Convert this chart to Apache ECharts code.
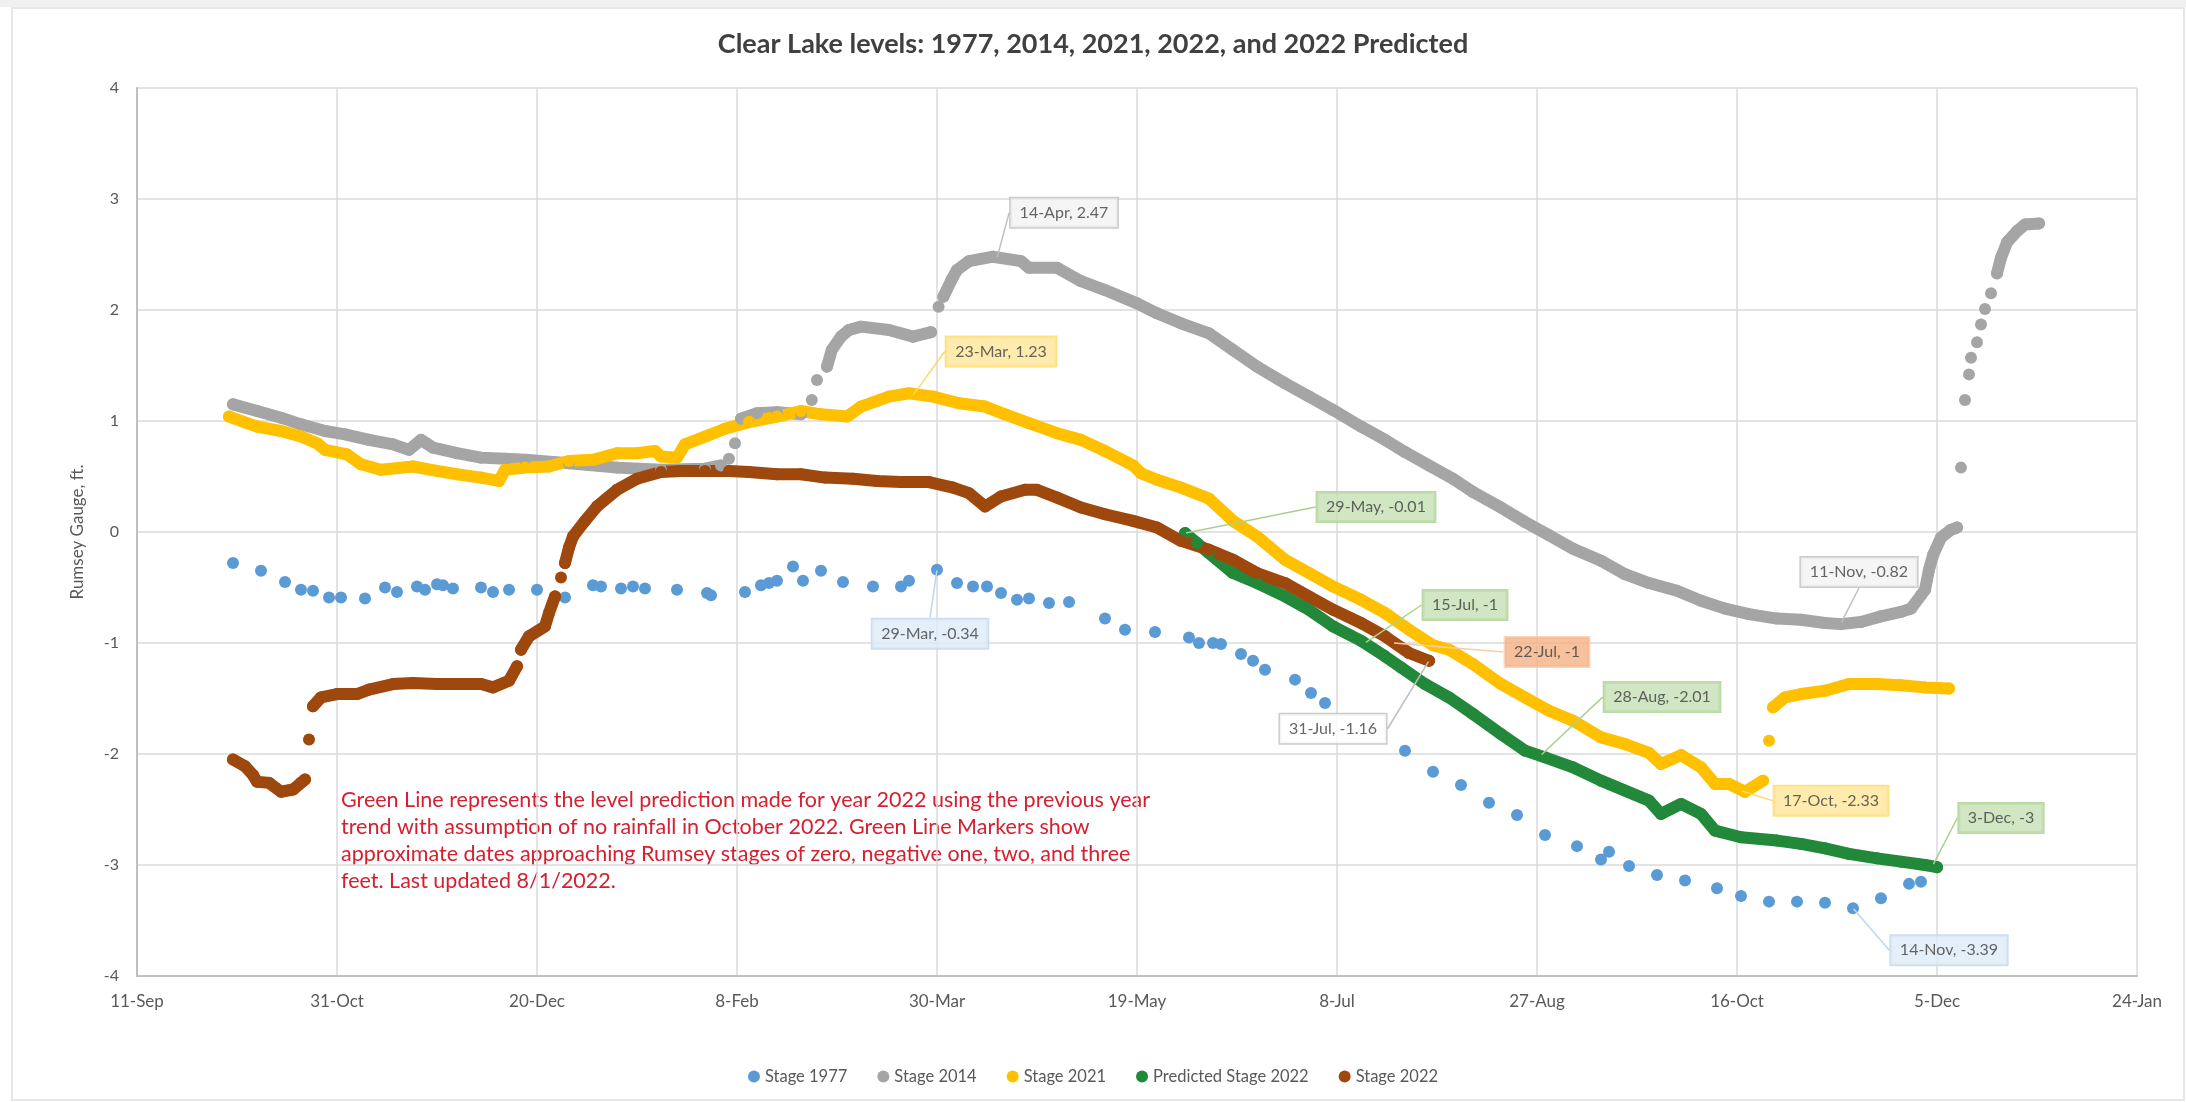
<!DOCTYPE html>
<html>
<head>
<meta charset="utf-8">
<title>Clear Lake levels</title>
<script src="https://cdn.jsdelivr.net/npm/echarts@6/dist/echarts.min.js"></script>
<style>
  html, body { margin: 0; padding: 0; background: #fff; }
  #chart { width: 2186px; height: 1102px; }
</style>
</head>
<body>
<div id="chart"></div>
<script>
// x = days counted from 11-Sep (left end of the axis), 50 days per tick
var tickLabels = ['11-Sep', '31-Oct', '20-Dec', '8-Feb', '30-Mar', '19-May', '8-Jul', '27-Aug', '16-Oct', '5-Dec', '24-Jan'];

var seriesNames = ['Stage 1977', 'Stage 2014', 'Stage 2021', 'Predicted Stage 2022', 'Stage 2022'];

var days1977 = [24, 31, 37, 41, 44, 48, 51, 57, 62, 65, 70, 72, 75, 76.5, 79, 86, 89, 93, 100, 107, 114, 116, 121, 124, 127, 135, 142.5, 143.5,
    152, 156, 158, 160, 164, 166.5, 171, 176.5, 184, 191, 193, 200, 205, 209, 212.5, 216, 220, 223, 228, 233, 242, 247, 254.5,
    263, 265.5, 269, 271, 276, 279, 282, 289.5, 293.5, 297, 317, 324, 331, 338, 345, 352, 360, 366, 368, 373, 380, 387, 395,
    401, 408, 415, 422, 429, 436, 443, 446];
var stage1977 = [-0.28, -0.35, -0.45, -0.52, -0.53, -0.59, -0.59, -0.60, -0.50, -0.54, -0.49, -0.52, -0.47, -0.48, -0.51, -0.50, -0.54, -0.52, -0.52, -0.59, -0.48, -0.49, -0.51, -0.49, -0.51, -0.52, -0.55, -0.57,
    -0.54, -0.48, -0.46, -0.44, -0.31, -0.44, -0.35, -0.45, -0.49, -0.49, -0.44, -0.34, -0.46, -0.49, -0.49, -0.55, -0.61, -0.60, -0.64, -0.63, -0.78, -0.88, -0.90,
    -0.95, -1.00, -1.00, -1.01, -1.10, -1.16, -1.24, -1.33, -1.45, -1.54, -1.97, -2.16, -2.28, -2.44, -2.55, -2.73, -2.83, -2.95, -2.88, -3.01, -3.09, -3.14, -3.21,
    -3.28, -3.33, -3.33, -3.34, -3.39, -3.30, -3.17, -3.15];

// null = gap in the trace (isolated markers)
var days2014 = [24, 30, 36, 41, 47, 52, 58, 64, 68, 71, 74, 80, 86, 92, 97, 108, 120, 131, 142, 146, 146, 148, 148, 149.5, 149.5,
    151, 155, 160, 166, 166, 168.7, 168.7, 170, 170, 172.5, 173.7, 176, 178, 181, 188, 194, 198.5, 198.5, 200.4, 200.4, 201.6, 203.6, 205, 208, 214, 221, 223, 230,
    236, 242, 250, 255, 261, 268, 274, 280, 287, 293, 299, 306, 312, 317, 323, 329, 334, 341, 347, 353, 359, 366, 372, 378, 385,
    391, 397, 403, 410, 416, 422, 426, 431, 436, 441, 443.5, 446, 447, 448, 449, 451, 453.5, 455, 455, 456, 456, 457, 457,
    458, 458, 458.5, 458.5, 460, 460, 461, 461, 462, 462, 463.5, 463.5, 465, 466, 467.5, 470, 472, 475.5];
var stage2014 = [1.15, 1.09, 1.03, 0.97, 0.91, 0.88, 0.83, 0.79, 0.74, 0.83, 0.76, 0.71, 0.67, 0.66, 0.65, 0.62, 0.58, 0.56, 0.57, 0.60, null, 0.66, null, 0.80, null,
    1.02, 1.07, 1.08, 1.06, null, 1.19, null, 1.37, null, 1.49, 1.64, 1.76, 1.82, 1.85, 1.82, 1.76, 1.80, null, 2.03, null, 2.12, 2.27, 2.36, 2.44, 2.48, 2.44, 2.38, 2.38,
    2.26, 2.18, 2.06, 1.97, 1.88, 1.79, 1.64, 1.49, 1.34, 1.22, 1.10, 0.95, 0.83, 0.72, 0.60, 0.48, 0.36, 0.22, 0.09, -0.03, -0.15, -0.26, -0.38, -0.46, -0.53,
    -0.62, -0.69, -0.74, -0.78, -0.79, -0.82, -0.83, -0.81, -0.76, -0.72, -0.69, -0.57, -0.52, -0.34, -0.21, -0.05, 0.02, 0.04, null, 0.58, null, 1.19, null,
    1.42, null, 1.57, null, 1.71, null, 1.87, null, 2.01, null, 2.15, null, 2.33, 2.47, 2.61, 2.71, 2.77, 2.78];

var days2021 = [23, 30, 36, 41, 45, 47, 52.5, 56, 61, 69, 75, 80, 86, 90.5, 92, 97, 103, 108, 114, 120, 125, 129.5, 131, 135, 137, 142, 147,
    153, 160, 166, 171, 177.5, 181, 188, 193, 199, 205.5, 212, 217, 223, 230, 236, 242, 249, 251, 255, 261, 268, 274, 280, 287, 293, 299,
    306, 312, 318, 324, 328, 334, 341, 347, 353, 359, 366, 372, 378, 381, 386, 391, 394.5, 398, 402, 406.5, 406.5, 408, 408,
    409, 412, 416, 422, 428, 435, 441, 447, 453];
var stage2021 = [1.04, 0.95, 0.91, 0.86, 0.80, 0.74, 0.70, 0.61, 0.56, 0.59, 0.55, 0.52, 0.49, 0.46, 0.56, 0.58, 0.59, 0.64, 0.65, 0.71, 0.71, 0.73, 0.68, 0.67, 0.79, 0.86, 0.93,
    0.99, 1.04, 1.09, 1.06, 1.04, 1.13, 1.22, 1.25, 1.22, 1.16, 1.13, 1.06, 0.98, 0.89, 0.83, 0.73, 0.60, 0.53, 0.47, 0.40, 0.30, 0.10, -0.04, -0.25, -0.37, -0.49,
    -0.61, -0.73, -0.88, -1.02, -1.06, -1.19, -1.37, -1.49, -1.61, -1.70, -1.85, -1.91, -1.99, -2.09, -2.01, -2.12, -2.27, -2.27, -2.34, -2.24, null, -1.88, null,
    -1.58, -1.49, -1.46, -1.43, -1.37, -1.37, -1.38, -1.40, -1.41];

var daysPredicted = [262, 265, 268, 274, 280, 287, 293, 299, 306, 312, 316, 322, 328, 334, 341, 347, 352, 359, 366, 372, 378, 381, 386,
    391, 394.5, 401, 410, 416, 422, 428, 435, 441, 447, 450];
var stagePredicted = [-0.01, -0.10, -0.19, -0.37, -0.46, -0.58, -0.70, -0.85, -0.98, -1.12, -1.22, -1.37, -1.49, -1.64, -1.82, -1.97, -2.03, -2.12, -2.24, -2.33, -2.42, -2.54, -2.45,
    -2.54, -2.69, -2.75, -2.78, -2.81, -2.85, -2.90, -2.94, -2.97, -3.00, -3.02];

var days2022 = [24, 27, 29, 30, 33, 36, 39, 41, 42, 42, 43, 43, 44, 46, 50, 55, 58, 64, 69, 75, 80, 86, 89, 93, 95, 95, 96,
    98, 102, 103, 104.5, 104.5, 106, 106, 107, 108, 109, 112, 115, 120, 125, 131, 136, 142, 148, 153, 160, 166, 172, 179, 185, 191, 198,
    204, 208, 212, 216, 222, 225, 230, 236, 242, 249, 255, 261, 268, 274, 280, 287, 293, 299, 306, 312, 318, 323];
var stage2022 = [-2.05, -2.11, -2.19, -2.25, -2.26, -2.34, -2.32, -2.26, -2.23, null, -1.87, null, -1.57, -1.49, -1.46, -1.46, -1.42, -1.37, -1.36, -1.37, -1.37, -1.37, -1.40, -1.34, -1.21, null, -1.06,
    -0.94, -0.85, -0.73, -0.58, null, -0.41, null, -0.28, -0.14, -0.04, 0.10, 0.23, 0.38, 0.48, 0.54, 0.55, 0.55, 0.55, 0.54, 0.52, 0.52, 0.49, 0.48, 0.46, 0.45, 0.45,
    0.40, 0.35, 0.23, 0.32, 0.38, 0.38, 0.31, 0.22, 0.16, 0.10, 0.04, -0.08, -0.16, -0.25, -0.37, -0.46, -0.58, -0.70, -0.82, -0.94, -1.09, -1.16];

// data callouts
var calloutText = ['14-Apr, 2.47', '23-Mar, 1.23', '29-May, -0.01', '29-Mar, -0.34', '15-Jul, -1', '22-Jul, -1',
    '31-Jul, -1.16', '28-Aug, -2.01', '17-Oct, -2.33', '11-Nov, -0.82', '3-Dec, -3', '14-Nov, -3.39'];
var calloutDay = [215, 194, 262, 200, 307, 314, 323, 351, 401, 426, 449, 429];
var calloutValue = [2.47, 1.23, -0.01, -0.34, -1, -1, -1.16, -2.01, -2.33, -0.82, -3, -3.39];

var noteLines = [
    'Green Line represents the level prediction made for year 2022 using the previous year',
    'trend with assumption of no rainfall in October 2022. Green Line Markers show',
    'approximate dates approaching Rumsey stages of zero, negative one, two, and three',
    'feet. Last updated 8/1/2022.'
];

var FONT = 'Lato, "Open Sans", sans-serif';
var colors = ['#5b9bd5', '#a5a5a5', '#ffc000', '#22883a', '#9e480e'];

// callout box look: [fill, border, dx, dy]
var calloutLook = [
    ['#f2f2f2', '#bfbfbf', 67, -45],
    ['#ffe699', '#ffd966', 88, -44],
    ['#c5e0b4', '#a9d18e', 191, -26],
    ['#deebf7', '#bdd7ee', -7, 64],
    ['#c5e0b4', '#a9d18e', 100, -38],
    ['#f4b183', '#f8cbad', 154, 9],
    ['#ffffff', '#bfbfbf', -96, 68],
    ['#c5e0b4', '#a9d18e', 121, -58],
    ['#ffe699', '#ffd966', 90, 10],
    ['#f2f2f2', '#bfbfbf', 18, -51],
    ['#c5e0b4', '#a9d18e', 68, -47],
    ['#deebf7', '#bdd7ee', 96, 42]
];

function pairs(days, values) {
    return days.map(function (d, i) {
        return [d, values[i] == null ? '-' : values[i]];
    });
}

function traceSeries(idx, days, values) {
    return {
        name: seriesNames[idx],
        type: 'line',
        data: pairs(days, values),
        symbol: 'circle',
        symbolSize: 12,
        showSymbol: true,
        connectNulls: false,
        itemStyle: { color: colors[idx] },
        lineStyle: { color: colors[idx], width: 12, cap: 'round', join: 'round' },
        emphasis: { disabled: true },
        silent: true
    };
}

var chart = echarts.init(document.getElementById('chart'));

var option = {
    animation: false,
    backgroundColor: '#ffffff',
    textStyle: { fontFamily: FONT },
    title: {
        text: 'Clear Lake levels: 1977, 2014, 2021, 2022, and 2022 Predicted',
        left: 'center',
        top: 26,
        textStyle: { fontFamily: FONT, fontSize: 27, fontWeight: 'bold', color: '#404040' }
    },
    legend: {
        data: seriesNames,
        top: 1063,
        left: 'center',
        icon: 'circle',
        itemWidth: 12,
        itemHeight: 12,
        itemGap: 30,
        textStyle: { fontFamily: FONT, fontSize: 16.5, color: '#595959' }
    },
    grid: { left: 137, right: 49, top: 88, bottom: 126 },
    xAxis: {
        type: 'value',
        min: 0,
        max: 500,
        interval: 50,
        axisLine: { show: true, onZero: false, lineStyle: { color: '#bfbfbf', width: 2 } },
        axisTick: { show: false },
        splitLine: { show: true, lineStyle: { color: '#dadada', width: 1.5 } },
        axisLabel: {
            margin: 17,
            fontFamily: FONT,
            fontSize: 17,
            color: '#595959',
            formatter: function (v) { return tickLabels[Math.round(v / 50)]; }
        }
    },
    yAxis: {
        type: 'value',
        min: -4,
        max: 4,
        interval: 1,
        name: 'Rumsey Gauge, ft.',
        nameLocation: 'middle',
        nameGap: 51,
        nameTextStyle: { fontFamily: FONT, fontSize: 17, color: '#595959' },
        axisLine: { show: true, lineStyle: { color: '#bfbfbf', width: 2 } },
        axisTick: { show: false },
        splitLine: { show: true, lineStyle: { color: '#dadada', width: 1.5 } },
        axisLabel: { margin: 18, fontFamily: FONT, fontSize: 16, color: '#595959' }
    },
    graphic: [
        { type: 'rect', z: -10, shape: { x: 0, y: 0, width: 2186, height: 7 }, style: { fill: '#f0f0f0' } },
        { type: 'rect', z: -10, shape: { x: 12, y: 8, width: 2172, height: 1092 }, style: { fill: 'none', stroke: '#e6e6e6', lineWidth: 2 } },
        {
            type: 'text',
            left: 341,
            top: 787,
            style: {
                text: noteLines.join('\n'),
                fill: '#d42030',
                font: '21.5px ' + FONT,
                lineHeight: 27
            }
        }
    ],
    series: [
        {
            name: seriesNames[0],
            type: 'scatter',
            data: pairs(days1977, stage1977),
            symbolSize: 12,
            itemStyle: { color: colors[0], opacity: 1 },
            emphasis: { disabled: true },
            silent: true
        },
        traceSeries(1, days2014, stage2014),
        traceSeries(2, days2021, stage2021),
        traceSeries(3, daysPredicted, stagePredicted),
        traceSeries(4, days2022, stage2022),
        {
            name: 'callouts',
            type: 'scatter',
            z: 5,
            symbolSize: 2,
            itemStyle: { color: 'rgba(0,0,0,0)' },
            silent: true,
            data: calloutDay.map(function (d, i) {
                var look = calloutLook[i];
                return {
                    value: [d, calloutValue[i]],
                    label: {
                        show: true,
                        position: 'inside',
                        formatter: calloutText[i],
                        backgroundColor: look[0],
                        borderColor: look[1],
                        borderWidth: 1.5,
                        padding: [7, 9, 6, 9],
                        color: '#404040',
                        fontFamily: FONT,
                        fontSize: 16
                    },
                    labelLine: { show: true, lineStyle: { color: look[1], width: 1.5 } }
                };
            }),
            labelLayout: function (params) {
                var look = calloutLook[params.dataIndex];
                return { dx: look[2], dy: look[3] };
            },
            labelLine: { show: true, length2: 0, smooth: false }
        }
    ]
};

chart.setOption(option);
</script>
</body>
</html>
